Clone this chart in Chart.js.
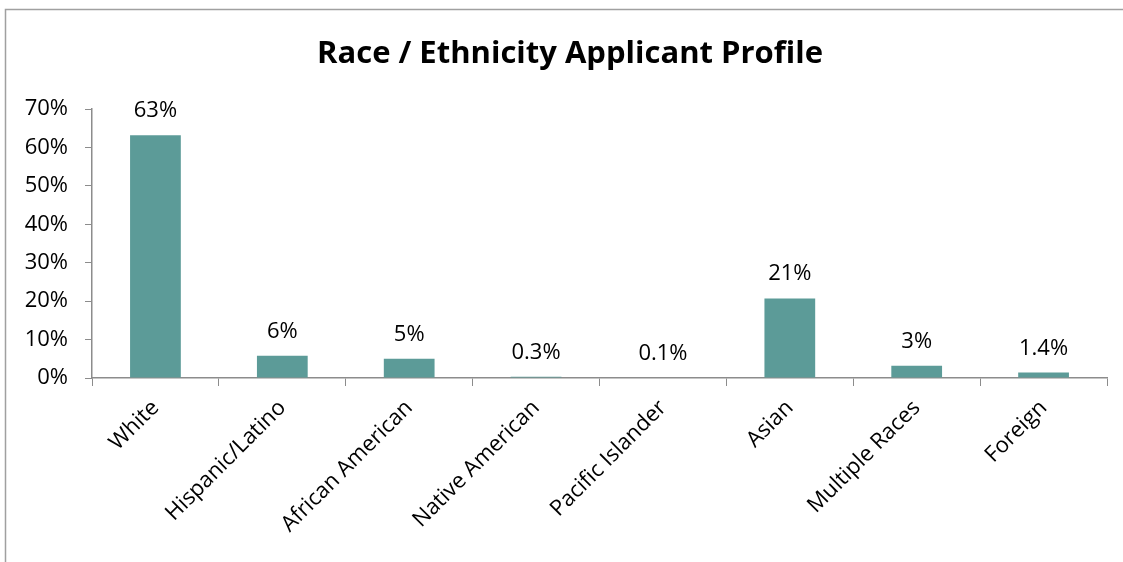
<!DOCTYPE html>
<html><head><meta charset="utf-8">
<script src="https://cdn.jsdelivr.net/npm/chart.js@4"></script>
<style>html,body{margin:0;padding:0;background:#fff;}#wrap{width:1123px;height:562px;position:relative;}</style>
</head><body><div id="wrap"><canvas id="c" width="1123" height="562"></canvas></div>
<script>
const categories = ["White","Hispanic/Latino","African American","Native American","Pacific Islander","Asian","Multiple Races","Foreign"];
const values = [63.2, 5.8, 5.0, 0.3, 0.1, 20.7, 3.2, 1.4];
const valueLabels = ["63%","6%","5%","0.3%","0.1%","21%","3%","1.4%"];
const yTicks = [0,10,20,30,40,50,60,70];
const TITLE = 'Race / Ethnicity Applicant Profile';
const FONT = "'Open Sans', sans-serif";

const framePlugin = {
  id:'frame',
  beforeDraw(chart){
    const ctx = chart.ctx;
    ctx.save();
    ctx.fillStyle='#fff';ctx.fillRect(0,0,chart.width,chart.height);
    ctx.strokeStyle='#a0a0a0';ctx.lineWidth=1.5;
    ctx.beginPath();
    ctx.moveTo(5.5,chart.height);ctx.lineTo(5.5,9.5);ctx.lineTo(chart.width,9.5);
    ctx.stroke();
    ctx.font = "bold 31px " + FONT;
    ctx.fillStyle='#000';ctx.textAlign='center';ctx.textBaseline='middle';
    ctx.fillText(TITLE, 570, 54);
    ctx.restore();
  }
};
const labelPlugin = {
  id:'vlabels',
  afterDatasetsDraw(chart){
    const ctx = chart.ctx;
    const meta = chart.getDatasetMeta(0);
    ctx.save();
    ctx.font = "22px " + FONT;
    ctx.fillStyle='#000';
    ctx.textAlign='center';ctx.textBaseline='alphabetic';
    meta.data.forEach((el,i)=>{
      ctx.fillText(valueLabels[i], el.x, el.y - 18);
    });
    ctx.restore();
  }
};

new Chart(document.getElementById('c'),{
  type:'bar',
  data:{labels:categories,datasets:[{data:values,backgroundColor:'#5c9b98',borderWidth:0,barPercentage:0.4,categoryPercentage:1}]},
  options:{
    responsive:false,animation:false,
    layout:{padding:{left:0,right:16,top:109,bottom:0}},
    plugins:{legend:{display:false},tooltip:{enabled:false},title:{display:false}},
    scales:{
      x:{
        afterFit(s){s.height=184;},
        grid:{display:true,drawOnChartArea:false,drawTicks:true,tickLength:8,color:'#8c8c8c',offset:true},
        border:{display:true,color:'#8c8c8c',width:1.5},
        ticks:{color:'#000',font:{family:FONT,size:22},maxRotation:45,minRotation:45,padding:9,autoSkip:false}
      },
      y:{
        min:0,max:70,
        afterFit(s){s.width=92;},
        afterBuildTicks(s){s.ticks=yTicks.map(v=>({value:v}));},
        grid:{display:true,drawOnChartArea:false,drawTicks:true,tickLength:7,color:'#8c8c8c'},
        border:{display:true,color:'#8c8c8c',width:1.5},
        ticks:{color:'#000',font:{family:FONT,size:22},padding:17,callback:v=>v+'%'}
      }
    }
  },
  plugins:[framePlugin,labelPlugin]
});
</script></body></html>
